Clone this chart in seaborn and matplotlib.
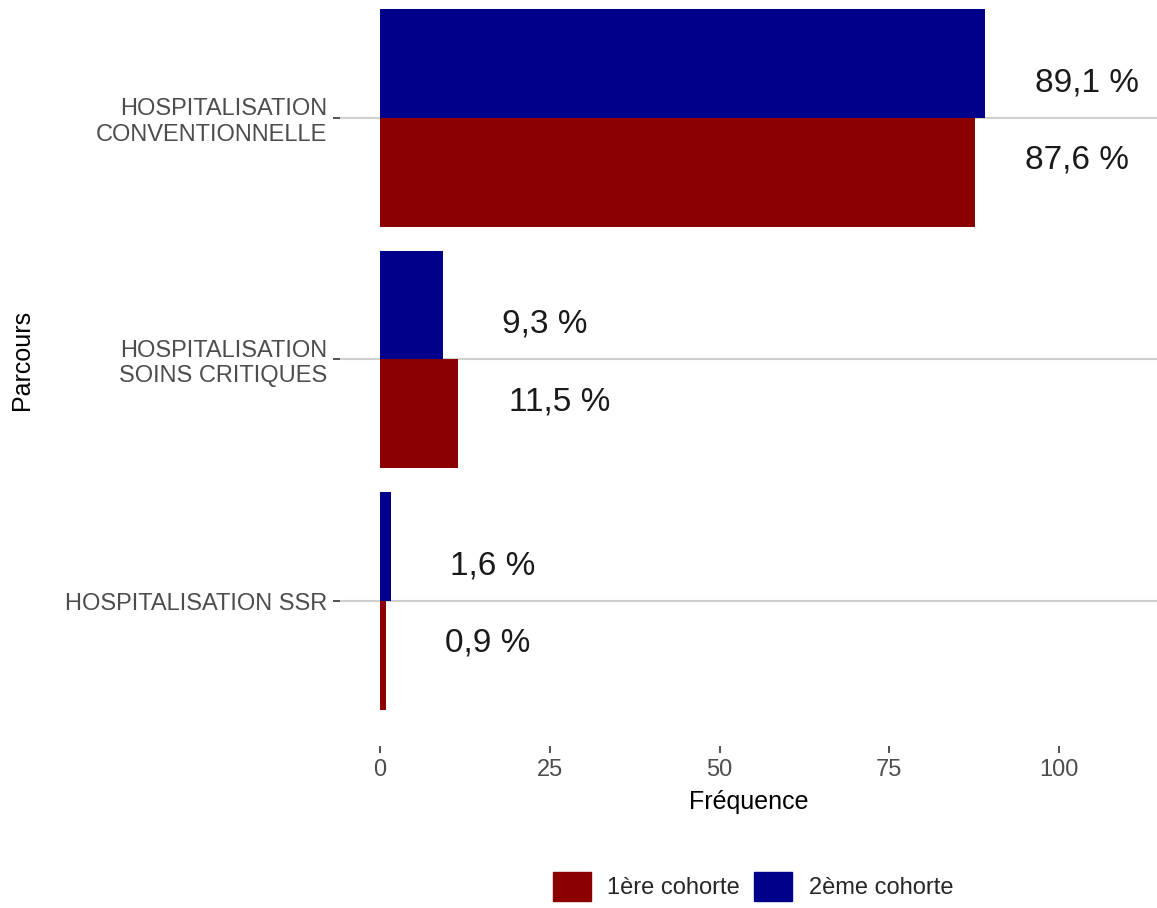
import pandas as pd
import matplotlib
matplotlib.use("Agg")
import matplotlib.pyplot as plt
import matplotlib.patches as mpatches
import seaborn as sns

# data
parcours = ["HOSPITALISATION\nCONVENTIONNELLE",
            "HOSPITALISATION\nSOINS CRITIQUES",
            "HOSPITALISATION SSR"]
cohorte1 = [87.6, 11.5, 0.9]
cohorte2 = [89.1, 9.3, 1.6]
labels1 = ["87,6 %", "11,5 %", "0,9 %"]
labels2 = ["89,1 %", "9,3 %", "1,6 %"]
cohortes = ["1ère cohorte", "2ème cohorte"]
couleurs = {"1ère cohorte": "#8B0000", "2ème cohorte": "#00008B"}

df = pd.DataFrame({
    "Parcours": parcours * 2,
    "Fréquence": cohorte1 + cohorte2,
    "Cohorte": [cohortes[0]] * 3 + [cohortes[1]] * 3,
})

sns.set_style("white")
plt.rcParams["font.family"] = ["Liberation Sans", "DejaVu Sans"]

fig = plt.figure(figsize=(11.57, 9.08), dpi=100)
ax = fig.add_axes([340 / 1157, 162 / 908, 1 - 340 / 1157, 773 / 908])

sns.barplot(data=df, y="Parcours", x="Fréquence", hue="Cohorte",
            hue_order=[cohortes[1], cohortes[0]], palette=couleurs,
            orient="h", width=0.9, order=parcours, ax=ax, legend=False,
            saturation=1, linewidth=0, edgecolor="none", zorder=2)

for i in range(len(parcours)):
    ax.text(cohorte2[i] + 15, i - 0.145, labels2[i], ha="center", va="center",
            fontsize=24, color="#1a1a1a", zorder=3)
    ax.text(cohorte1[i] + 15, i + 0.175, labels1[i], ha="center", va="center",
            fontsize=24, color="#1a1a1a", zorder=3)

ax.set_xlim(-5.9, 114.4)
ax.set_ylim(2.6, -0.6)
ax.set_xticks([0, 25, 50, 75, 100])
ax.set_axisbelow(True)
ax.grid(axis="y", color="#d0d0d0", linewidth=1.5)
ax.grid(axis="x", visible=False)
for s in ax.spines.values():
    s.set_visible(False)
ax.tick_params(axis="both", bottom=True, left=True, colors="#333333",
               labelcolor="#4d4d4d", labelsize=17, length=5, width=1.2, pad=4)
ax.set_xlabel("Fréquence", fontsize=18, color="black", labelpad=7)
ax.set_ylabel("Parcours", fontsize=18, color="black")
ax.yaxis.set_label_coords(-0.374, 0.5)

handles = [mpatches.Patch(color=couleurs[c], label=c) for c in cohortes]
fig.legend(handles=handles, loc="upper center", bbox_to_anchor=(0.651, 0.04),
           ncol=2, frameon=False, fontsize=17, handlelength=1.6,
           handleheight=1.55, handletextpad=0.7, columnspacing=0.6,
           borderpad=0, borderaxespad=0)

fig.savefig("out.png", dpi=100)
